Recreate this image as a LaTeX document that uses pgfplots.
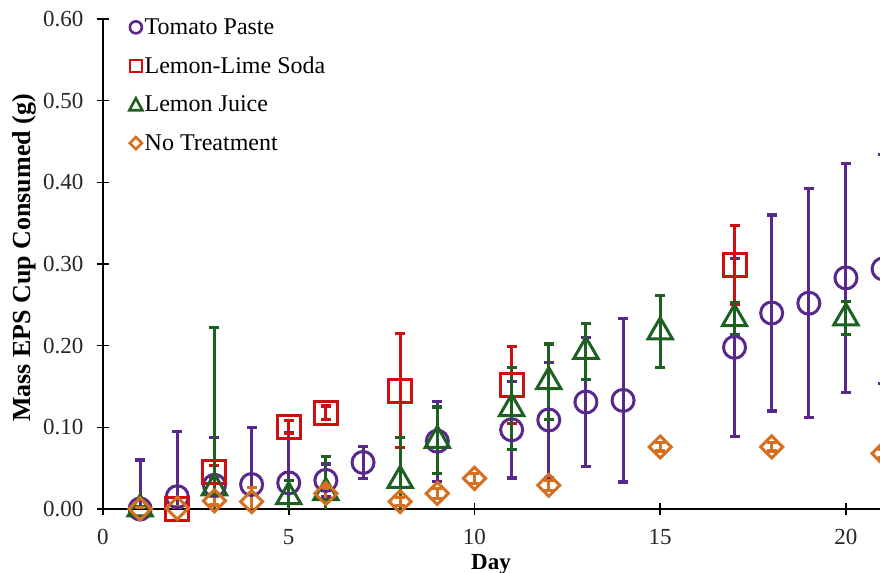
\documentclass[border=0pt]{standalone}
\usepackage{pgfplots}
\pgfplotsset{compat=1.18}
\usepackage{fontspec}
\setmainfont{Liberation Serif}
\definecolor{tp}{RGB}{88,40,140}
\definecolor{ls}{RGB}{204,16,16}
\definecolor{lj}{RGB}{30,96,34}
\definecolor{nt}{RGB}{214,112,32}
\begin{document}
\begin{tikzpicture}
\begin{axis}[name=ax,
  scale only axis, width=802.4bp, height=490bp,
  xmin=0, xmax=21.6, ymin=0, ymax=0.60,
  axis lines*=left, axis line style={line width=1.6bp, black},
  tick align=center, major tick length=12bp,
  tick style={line width=1.6bp, black},
  xtick={0,5,10,15,20}, ytick={0,0.1,0.2,0.3,0.4,0.5,0.6},
  yticklabel style={xshift=-10bp, /pgf/number format/.cd, fixed, fixed zerofill, precision=2},
  xticklabel style={yshift=-11bp},
  /pgf/number format/assume math mode=true,
  ticklabel style={font=\fontsize{23bp}{27bp}\selectfont, color=black!85},
  xlabel={\textbf{Day}}, ylabel={\textbf{Mass EPS Cup Consumed (g)}},
  xlabel style={font=\fontsize{23bp}{27bp}\selectfont, at={(axis description cs:0,0)}, anchor=center, xshift=388bp, yshift=-55bp},
  ylabel style={font=\fontsize{26bp}{31bp}\selectfont, at={(axis description cs:0,0.5)}, anchor=center, yshift=79bp, xshift=6bp},
  legend style={at={(axis description cs:0.031,1.003)}, anchor=north west, draw=none, fill=none,
    font=\fontsize{24bp}{28bp}\selectfont, row sep=19bp, inner sep=0pt,
    nodes={inner sep=1bp}},
  legend cell align=left,
  clip=true,
  error bars/y dir=both, error bars/y explicit,
]
\pgfplotsset{
  mystyle/.style={only marks, line width=3bp, color=#1,
    mark options={solid, line width=3bp, fill=white, fill opacity=0.45},
    error bars/error bar style={line width=3bp, color=#1},
    error bars/error mark options={rotate=90, mark size=5bp, line width=3.2bp, color=#1}},
}
\addplot+[mystyle=tp, mark=o, mark size=11bp,
  legend image code/.code={\draw[tp, line width=2.6bp] (0bp,0bp) circle (6bp);}]
  table[x=x, y=y, y error=e] {
x y e
1 0.000 0.060
2 0.015 0.080
3 0.029 0.059
4 0.030 0.070
5 0.032 0.061
6 0.035 0.020
7 0.057 0.020
9 0.083 0.049
11 0.097 0.059
12 0.109 0.070
13 0.131 0.079
14 0.133 0.100
17 0.198 0.109
18 0.240 0.120
19 0.252 0.140
20 0.283 0.140
21 0.294 0.140
};
\addlegendentry{Tomato Paste}
\addplot+[mystyle=ls, mark=square, mark size=11.5bp,
  legend image code/.code={\draw[ls, line width=2.6bp] (-6bp,-6bp) rectangle (6bp,6bp);}]
  table[x=x, y=y, y error=e] {
x y e
2 0.000 0.003
3 0.045 0.008
5 0.100 0.008
6 0.118 0.008
8 0.145 0.070
11 0.152 0.047
17 0.299 0.048
};
\addlegendentry{Lemon-Lime Soda}
\addplot+[mystyle=lj, mark=triangle, mark size=14bp,
  legend image code/.code={\draw[lj, line width=2.6bp, line join=miter] (0bp,6.5bp) -- (6.5bp,-5.5bp) -- (-6.5bp,-5.5bp) -- cycle;}]
  table[x=x, y=y, y error=e] {
x y e
1 0.000 0.003
3 0.026 0.196
5 0.015 0.020
6 0.020 0.044
8 0.035 0.053
9 0.084 0.041
11 0.123 0.050
12 0.156 0.046
13 0.193 0.034
15 0.217 0.044
17 0.233 0.020
20 0.234 0.020
};
\addlegendentry{Lemon Juice}
\addplot+[mystyle=nt, mark=square, mark size=7.8bp, mark options={rotate=45},
  legend image code/.code={\draw[nt, line width=2.6bp] (0bp,6bp) -- (6bp,0bp) -- (0bp,-6bp) -- (-6bp,0bp) -- cycle;}]
  table[x=x, y=y, y error=e] {
x y e
1 0.000 0.002
2 0.001 0.002
3 0.010 0.005
4 0.009 0.017
6 0.019 0.008
8 0.009 0.005
9 0.019 0.006
10 0.0375 0.006
12 0.029 0.006
15 0.076 0.005
18 0.076 0.005
21 0.068 0.005
};
\addlegendentry{No Treatment}
\end{axis}
\pgfresetboundingbox
\path ([xshift=-103bp,yshift=-64bp]ax.south west) rectangle ([xshift=777bp,yshift=509bp]ax.south west);
\end{tikzpicture}
\end{document}
